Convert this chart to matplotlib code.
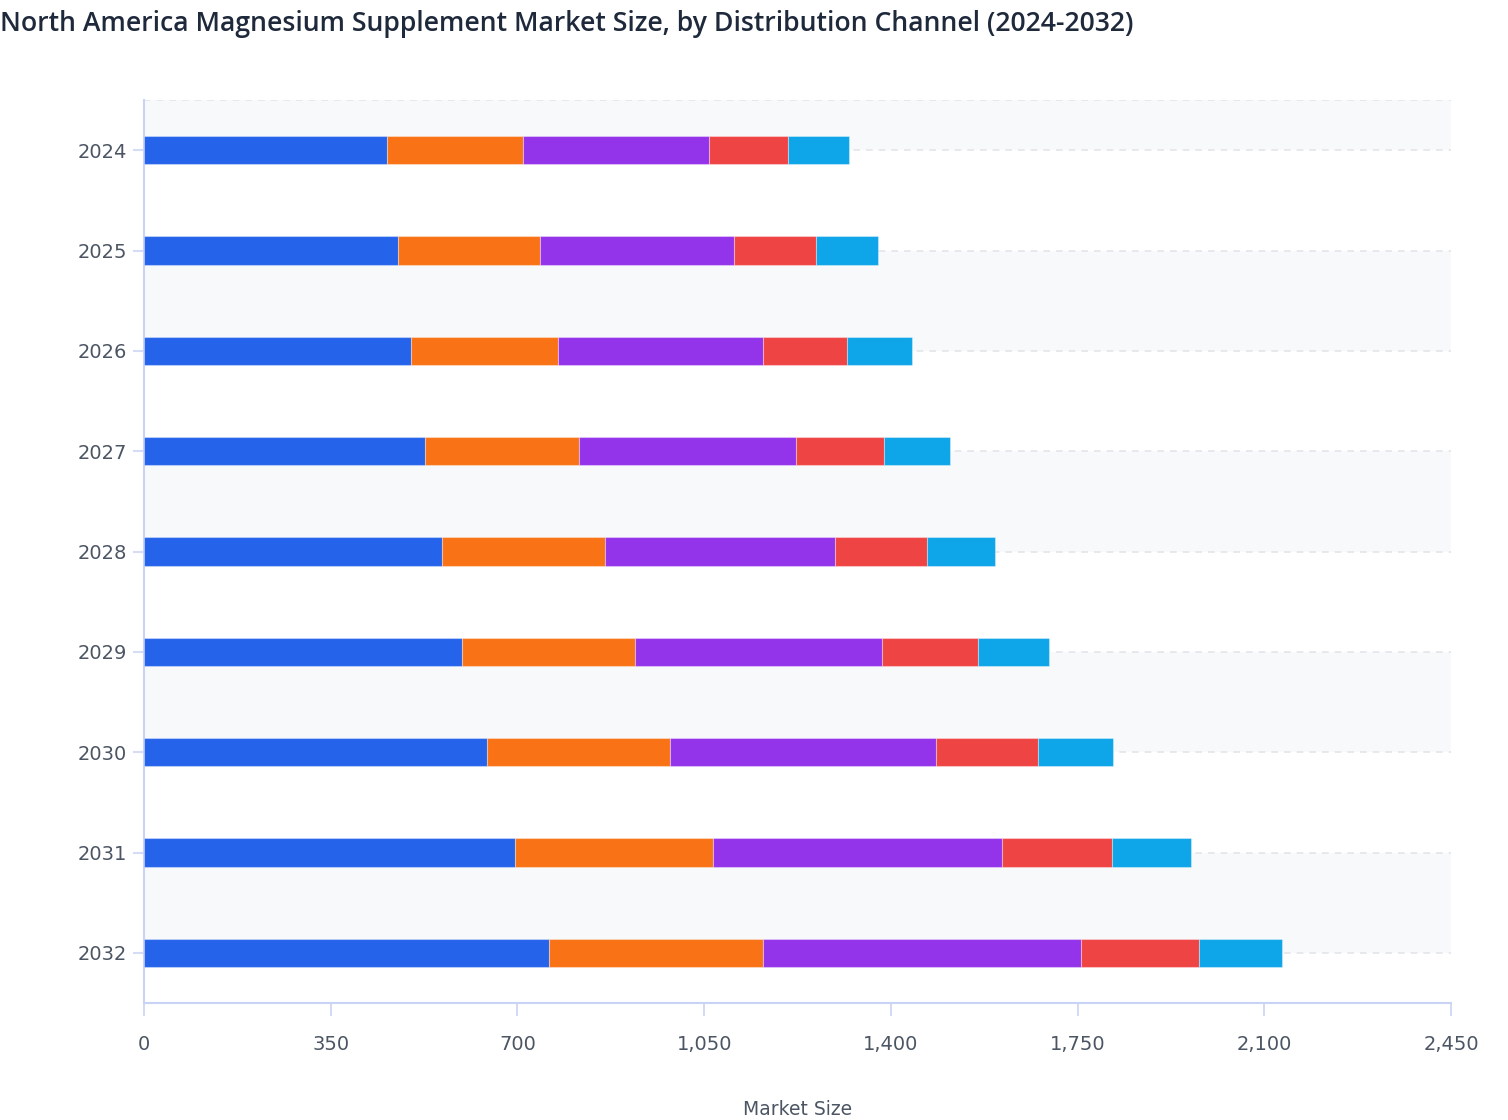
import matplotlib
matplotlib.use("Agg")
import matplotlib.pyplot as plt
import numpy as np

years = ["2024", "2025", "2026", "2027", "2028", "2029", "2030", "2031", "2032"]
channels = ["Supermarkets/Hypermarkets", "Pharmacies/Drug Stores", "Online Retail",
            "Specialty Stores", "Others"]
supermarkets = [455.4, 476.2, 500.4, 527.0, 558.3, 596.6, 642.1, 695.2, 759.9]
pharmacies = [255.9, 266.6, 275.8, 289.3, 305.4, 323.0, 343.3, 370.6, 401.0]
online = [348.2, 363.5, 384.3, 406.3, 432.4, 462.9, 500.0, 543.2, 595.2]
specialty = [147.9, 154.0, 158.1, 165.3, 172.1, 181.5, 191.3, 204.9, 220.7]
others = [114.5, 115.8, 121.1, 123.2, 127.9, 132.3, 140.2, 148.1, 156.8]
series = [supermarkets, pharmacies, online, specialty, others]
colors = ["#2563eb", "#f97316", "#9333ea", "#ef4444", "#0ea5e9"]
xticks = [0, 350, 700, 1050, 1400, 1750, 2100, 2450]
title = "North America Magnesium Supplement Market Size, by Distribution Channel (2024-2032)"
xlabel = "Market Size"

W, H = 1508, 1120
fig = plt.figure(figsize=(W / 100, H / 100), dpi=100)
ax = fig.add_axes([144 / W, 1 - 1003 / H, 1307 / W, 903 / H])

n = len(years)
y = np.arange(n)
ax.set_ylim(n - 0.5, -0.5)
ax.set_xlim(0, 2450)

# alternating background bands
band_col = "#f8f9fb"
ax.axhspan(-0.5, 0, color=band_col, zorder=0, lw=0)
for i in range(1, n - 1, 2):
    ax.axhspan(i, i + 1, color=band_col, zorder=0, lw=0)

# dashed grid lines
grid_col = "#e3e5ea"
for gy in [-0.5] + list(y):
    ax.axhline(gy, color=grid_col, lw=1.2, dashes=(4, 3.6), zorder=1)

left = np.zeros(n)
for vals, c, name in zip(series, colors, channels):
    ax.barh(y, vals, left=left, height=0.28, color=c, label=name,
            edgecolor=(1, 1, 1, 0.35), linewidth=0.8, zorder=3)
    left += np.array(vals)

axis_col = "#c9d3f5"
for s in ["top", "right"]:
    ax.spines[s].set_visible(False)
for s in ["left", "bottom"]:
    ax.spines[s].set_color(axis_col)
    ax.spines[s].set_linewidth(1.5)

ax.set_yticks(y)
ax.set_yticklabels(years)
ax.set_xticks(xticks)
ax.set_xticklabels([f"{v:,}" for v in xticks])
tick_font = "DejaVu Sans"
for lab in ax.get_yticklabels() + ax.get_xticklabels():
    lab.set_fontfamily(tick_font)
    lab.set_fontsize(14)
    lab.set_color("#4b5563")
ax.tick_params(axis="y", length=8, width=1.5, color="#d6dcf3", pad=4)
ax.tick_params(axis="x", length=9, width=1.2, color=axis_col, pad=14)

fig.text(0.0, 1 - 31 / H, title, ha="left", va="baseline", fontsize=19.2,
         fontweight="semibold", color="#1e293b", family="Open Sans")
fig.text((144 + 1451) / 2 / W, 1 - 1119 / H, xlabel, ha="center", va="bottom",
         fontsize=13.5, color="#4b5563", family=tick_font)

fig.savefig("out.png", dpi=100, facecolor="white")
